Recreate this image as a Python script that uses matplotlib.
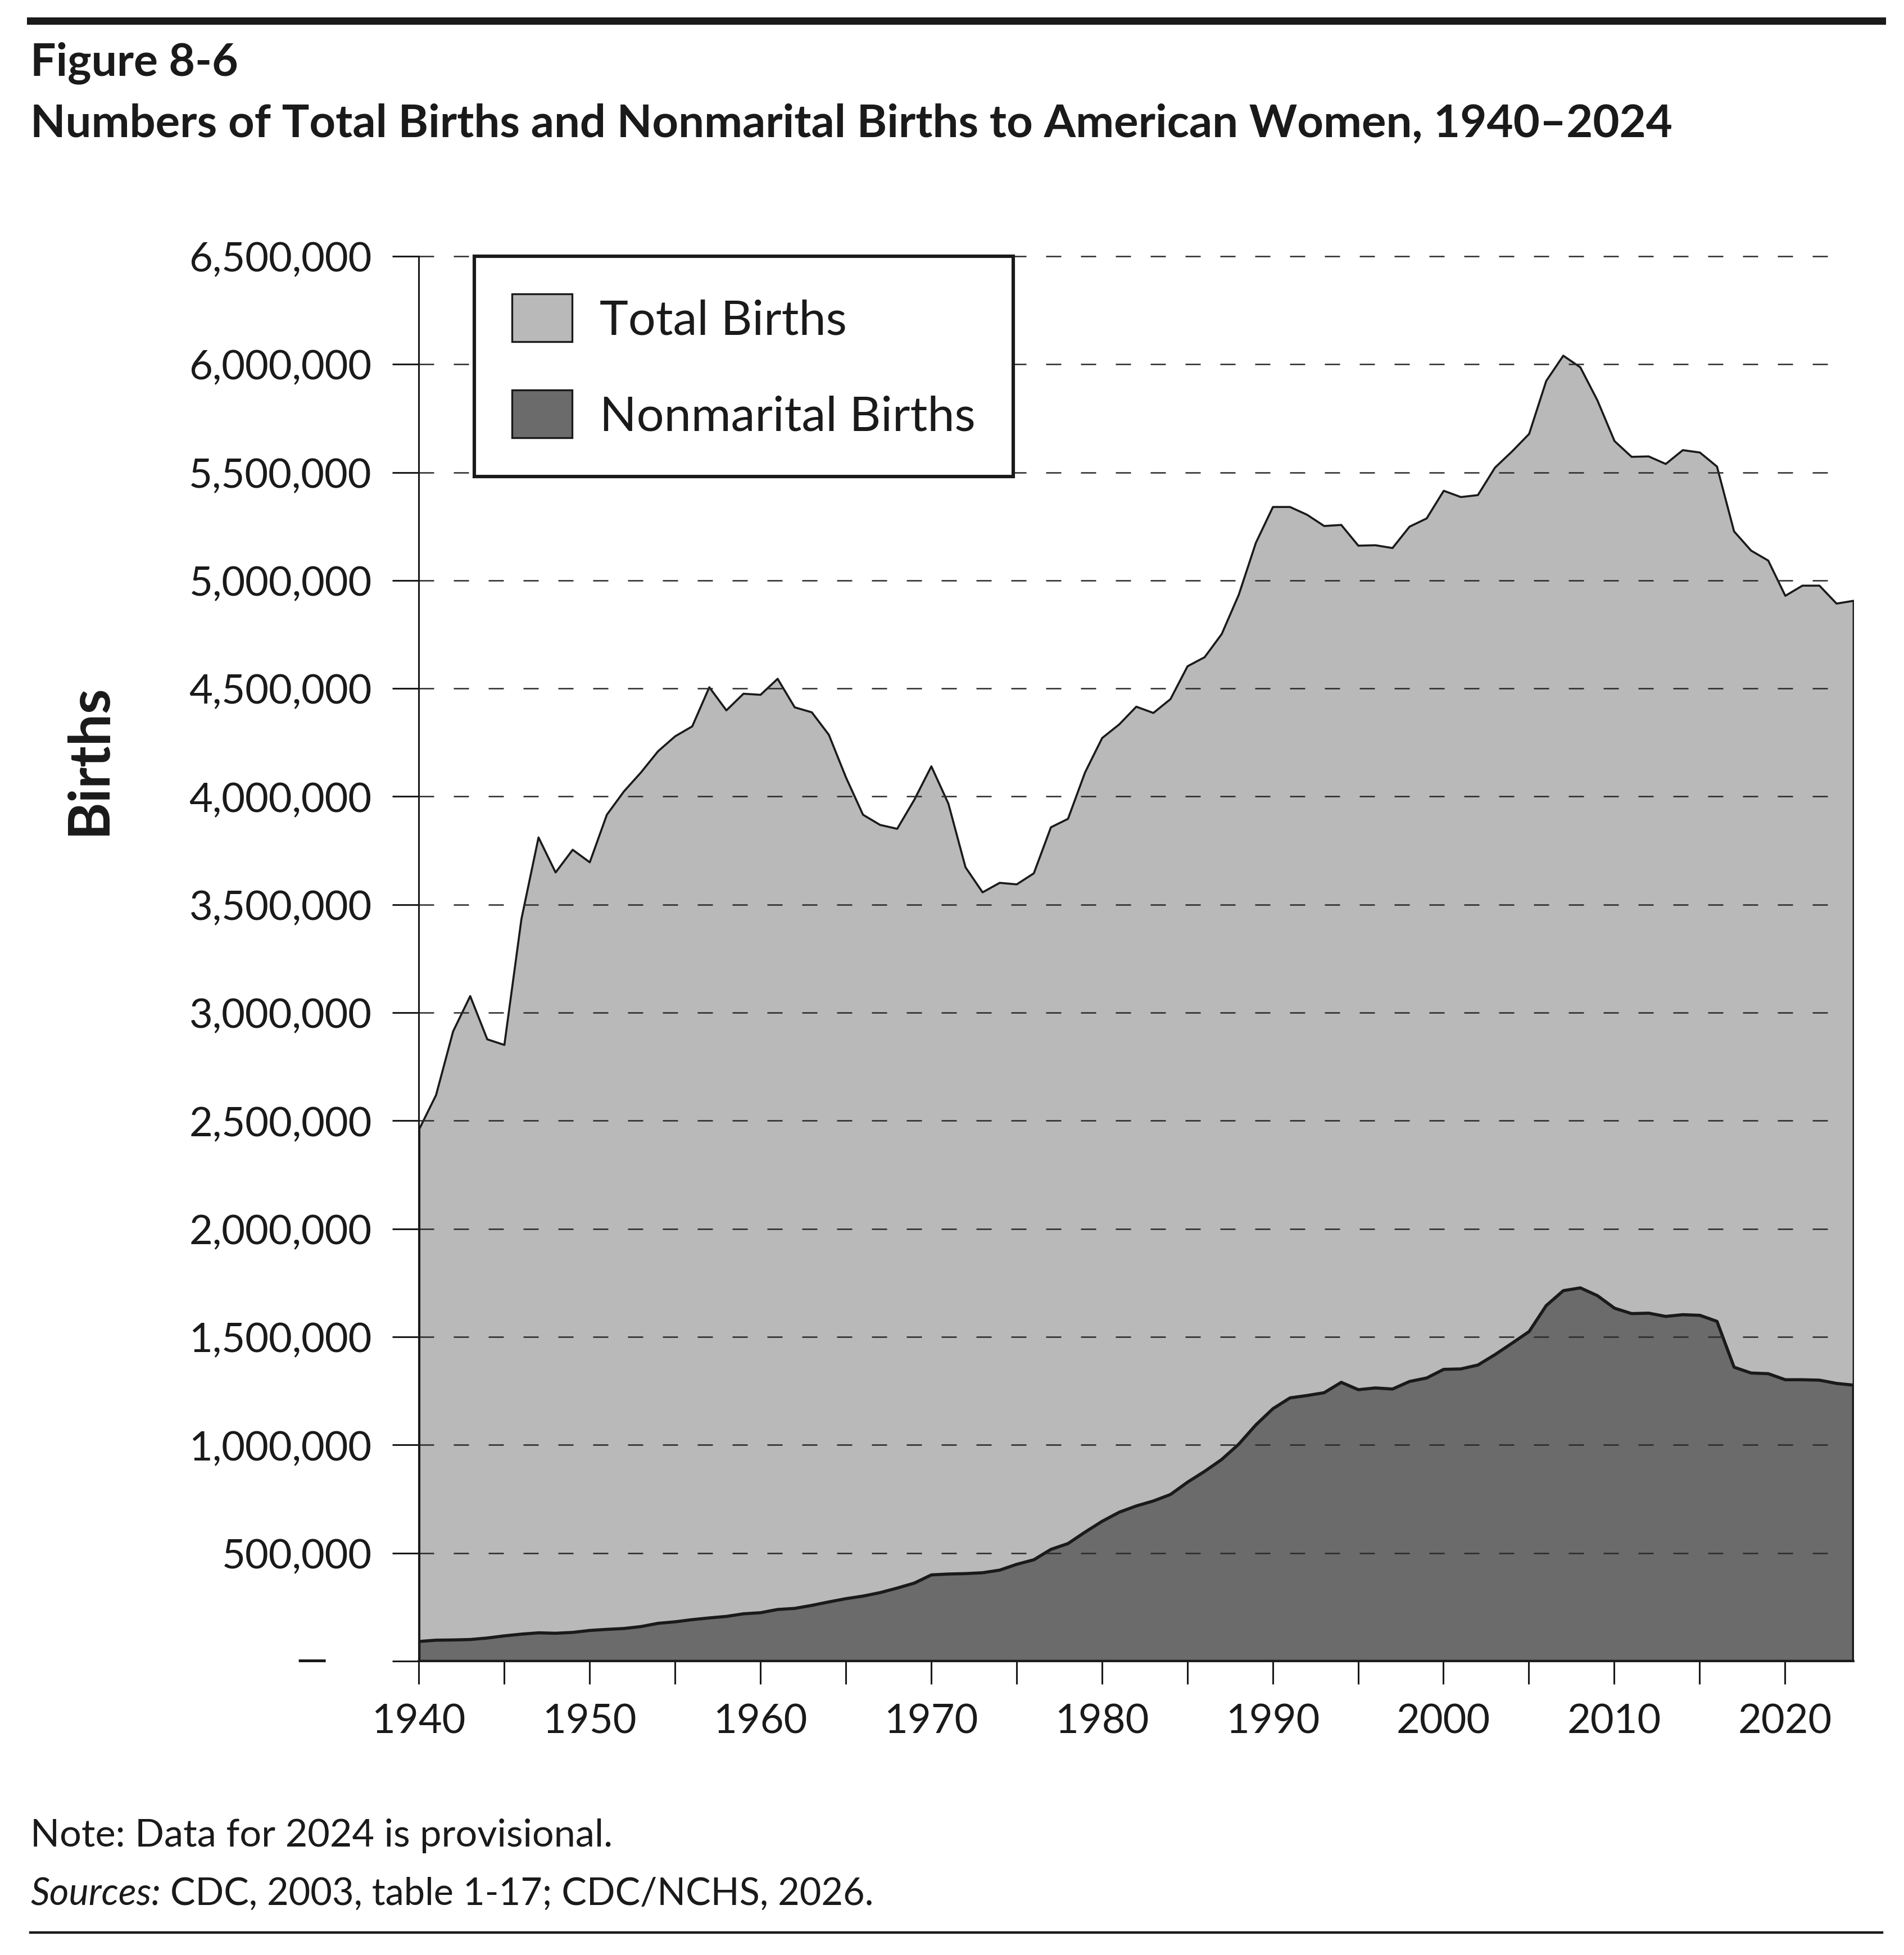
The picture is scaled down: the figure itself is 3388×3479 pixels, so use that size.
"""
Figure 8-6: total births vs nonmarital births, 1940-2024
Two overlaid area series with dashed horizontal gridlines.
"""

import matplotlib
matplotlib.use("Agg")
import matplotlib.pyplot as plt
import matplotlib.patches as mpatches
from matplotlib.lines import Line2D

plt.rcParams['font.family'] = ['Lato', 'DejaVu Sans']

# ==========================================
# data
# ==========================================
years = list(range(1940, 2025))

total_births = [
    2460000, 2620000, 2915000, 3078000, 2878000, 2852000, 3435000, 3812000, 3650000, 3755000,  # 1940s
    3697000, 3917000, 4025000, 4113000, 4211000, 4280000, 4326000, 4507000, 4400000, 4477000,  # 1950s
    4472000, 4546000, 4414000, 4391000, 4287000, 4090000, 3917000, 3870000, 3852000, 3986000,  # 1960s
    4141000, 3968000, 3674000, 3558000, 3602000, 3595000, 3646000, 3859000, 3898000, 4113000,  # 1970s
    4272000, 4335000, 4417000, 4388000, 4452000, 4604000, 4646000, 4753000, 4935000, 5175000,  # 1980s
    5341000, 5341000, 5305000, 5253000, 5258000, 5162000, 5164000, 5151000, 5250000, 5288000,  # 1990s
    5416000, 5387000, 5396000, 5523000, 5598000, 5679000, 5924000, 6041000, 5987000, 5834000,  # 2000s
    5646000, 5573000, 5575000, 5540000, 5604000, 5593000, 5528000, 5228000, 5139000, 5093000,  # 2010s
    4930000, 4977000, 4977000, 4894000, 4907000,                                                # 2020s
]

nonmarital_births = [
    92000, 98000, 99000, 101000, 108000, 118000, 126000, 132000, 130000, 134000,
    143000, 148000, 152000, 161000, 176000, 183000, 193000, 201000, 208000, 220000,
    225000, 240000, 245000, 259000, 275000, 290000, 302000, 318000, 339000, 362000,
    400000, 404000, 406000, 410000, 422000, 449000, 470000, 518000, 545000, 598000,
    648000, 690000, 719000, 742000, 772000, 829000, 879000, 934000, 1005000, 1094000,
    1169000, 1219000, 1230000, 1243000, 1291000, 1257000, 1265000, 1260000, 1295000, 1311000,
    1351000, 1353000, 1371000, 1419000, 1472000, 1526000, 1646000, 1715000, 1728000, 1692000,
    1634000, 1609000, 1611000, 1596000, 1604000, 1601000, 1573000, 1361000, 1334000, 1331000,
    1303000, 1303000, 1301000, 1286000, 1278000,
]

y_ticks = [0, 500000, 1000000, 1500000, 2000000, 2500000, 3000000, 3500000,
           4000000, 4500000, 5000000, 5500000, 6000000, 6500000]
x_ticks = list(range(1940, 2021, 5))
x_labels = ['1940', '', '1950', '', '1960', '', '1970', '', '1980', '',
            '1990', '', '2000', '', '2010', '', '2020']

series_names = ['Total Births', 'Nonmarital Births']

TEXT = '#1a1a1a'
LIGHT = '#b9b9b9'
DARK = '#6b6b6b'

# ==========================================
# figure
# ==========================================
fig = plt.figure(figsize=(16.94, 17.4), dpi=200)
ax = fig.add_axes([0.2199, 0.1503, 0.7535, 0.7184])

ax.fill_between(years, total_births, 0, facecolor=LIGHT, edgecolor=TEXT,
                linewidth=1.3, zorder=1)
ax.fill_between(years, nonmarital_births, 0, facecolor=DARK, edgecolor=TEXT,
                linewidth=2.0, zorder=2)
# thick left edge between the two areas
ax.vlines(years[0], nonmarital_births[0], total_births[0], colors=TEXT,
          linewidth=2.2, zorder=3)

# dashed gridlines (stop a bit before the right edge)
ax.hlines(y_ticks[1:], years[0], 2023.4, colors='#2a2a2a',
          linestyles=(0, (10.8, 14)), linewidth=0.9, zorder=2.5, clip_on=False)

ax.set_xlim(1940, 2024)
ax.set_ylim(0, 6500000)

ax.set_yticks(y_ticks)
ax.set_yticklabels([''] + [f'{v:,}' for v in y_ticks[1:]])
ax.set_xticks(x_ticks)
ax.set_xticklabels(x_labels)

ax.tick_params(axis='y', length=17, width=1.1, pad=13, labelsize=26,
               colors=TEXT, direction='out')
ax.tick_params(axis='x', length=14.8, width=1.1, pad=12, labelsize=26,
               colors=TEXT, direction='out')

# the zero label is a dash, set off to the left
ax.annotate('—', xy=(0, 0), xycoords='axes fraction', xytext=(-58, 0),
            textcoords='offset points', ha='right', va='center',
            fontsize=26, color=TEXT)

for side in ['top', 'right']:
    ax.spines[side].set_visible(False)
ax.spines['left'].set_linewidth(1.1)
ax.spines['left'].set_color(TEXT)
ax.spines['bottom'].set_linewidth(1.4)
ax.spines['bottom'].set_color(TEXT)

# legend
handles = [
    mpatches.Patch(facecolor=LIGHT, edgecolor=TEXT, linewidth=1.2),
    mpatches.Patch(facecolor=DARK, edgecolor=TEXT, linewidth=1.2),
]
leg = ax.legend(handles, series_names, loc='upper left',
                bbox_to_anchor=(0.0388, 1.0), borderaxespad=0,
                fontsize=31, frameon=True, fancybox=False,
                edgecolor=TEXT, framealpha=1, handlelength=1.24,
                handleheight=1.14, handletextpad=0.57, borderpad=0.78,
                labelspacing=0.98)
leg.get_frame().set_linewidth(2.2)
for t in leg.get_texts():
    t.set_color(TEXT)

# ==========================================
# titles, labels, notes
# ==========================================
fig.add_artist(Line2D([0.016, 0.9885], [0.9892, 0.9892], linewidth=4.7,
                      color=TEXT, transform=fig.transFigure))
fig.text(0.016, 0.9615, 'Figure 8-6', fontsize=29, fontweight='bold',
         va='baseline', color=TEXT)
fig.text(0.016, 0.930,
         'Numbers of Total Births and Nonmarital Births to American Women, 1940–2024',
         fontsize=29.3, fontweight='bold', va='baseline', color=TEXT)

fig.text(0.0468, 0.6118, 'Births', rotation=90, fontsize=36.5,
         fontweight='bold', ha='center', va='center', color=TEXT)

fig.text(0.016, 0.0557, 'Note: Data for 2024 is provisional.', fontsize=24.6,
         va='baseline', color=TEXT)
src = fig.text(0.016, 0.0224, 'Sources:', fontsize=24, style='italic',
               va='bottom', color=TEXT)
ax.annotate(' CDC, 2003, table 1-17; CDC/NCHS, 2026.', xy=(1, 0),
            xycoords=src, va='bottom', ha='left', fontsize=24, color=TEXT,
            annotation_clip=False)

fig.add_artist(Line2D([0.016, 0.9885], [0.0115, 0.0115], linewidth=1.6,
                      color=TEXT, transform=fig.transFigure))

fig.savefig('out.png', dpi=200)
